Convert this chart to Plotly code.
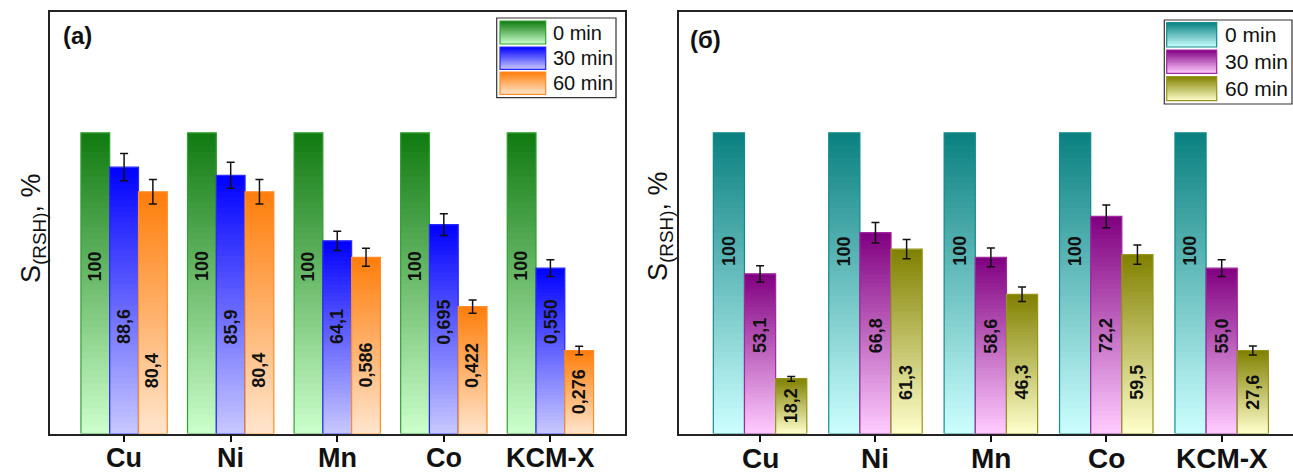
import plotly.graph_objects as go

W, H = 1293, 473

# ---------------- data ----------------
categories = ["Cu", "Ni", "Mn", "Co", "KCM-X"]
series_names = ["0 min", "30 min", "60 min"]

a_0min = [100, 100, 100, 100, 100]
a_30min = [88.6, 85.9, 64.1, 69.5, 55.0]
a_60min = [80.4, 80.4, 58.6, 42.2, 27.6]
a_30min_err = [4.5, 4.3, 3.2, 3.6, 2.8]
a_60min_err = [4.1, 4.1, 3.0, 2.2, 1.4]
a_0min_labels = ["100", "100", "100", "100", "100"]
a_30min_labels = ["88,6", "85,9", "64,1", "0,695", "0,550"]
a_60min_labels = ["80,4", "80,4", "0,586", "0,422", "0,276"]

b_0min = [100, 100, 100, 100, 100]
b_30min = [53.1, 66.8, 58.6, 72.2, 55.0]
b_60min = [18.2, 61.3, 46.3, 59.5, 27.6]
b_30min_err = [2.7, 3.4, 3.1, 3.8, 2.8]
b_60min_err = [0.8, 3.2, 2.4, 3.2, 1.5]
b_0min_labels = ["100", "100", "100", "100", "100"]
b_30min_labels = ["53,1", "66,8", "58,6", "72,2", "55,0"]
b_60min_labels = ["18,2", "61,3", "46,3", "59,5", "27,6"]

# ---------------- styles ----------------
FONT = "Liberation Sans, Arial, sans-serif"
N_SEG = 48
BAR_W = 0.27
OFFSETS = [-BAR_W, 0.0, BAR_W]

panels = [
    dict(
        name="(a)", xa="x", ya="y",
        values=[a_0min, a_30min, a_60min],
        errs=[None, a_30min_err, a_60min_err],
        labels=[a_0min_labels, a_30min_labels, a_60min_labels],
        colors=[((16, 122, 16), (204, 255, 204), "rgb(50,160,50)"),
                ((0, 0, 255), (200, 200, 255), "rgb(40,40,255)"),
                ((255, 125, 10), (255, 229, 204), "rgb(255,140,40)")],
        label_base=[50, 29, 14.5],
        xdom=[49.5 / W, 625 / W], xrange=[-0.70, 4.70],
        legend=dict(box=(496.7, 18, 616, 97.7), sx=(500, 545.7),
                    rows=[(21, 44), (47, 69.3), (72, 94.3)], tx=551, fs=20),
        tag_xy=(61, 36), title_xy=(33, 228), tickfs=27, tick_y=458, mirror_y=True,
    ),
    dict(
        name="(б)", xa="x2", ya="y2",
        values=[b_0min, b_30min, b_60min],
        errs=[None, b_30min_err, b_60min_err],
        labels=[b_0min_labels, b_30min_labels, b_60min_labels],
        colors=[((10, 128, 128), (204, 255, 255), "rgb(20,140,140)"),
                ((128, 0, 128), (255, 204, 255), "rgb(160,40,160)"),
                ((128, 128, 0), (255, 255, 204), "rgb(150,150,30)")],
        label_base=[55, 26, 10.5],
        xdom=[678.7 / W, 1.0], xrange=[-0.705, 4.618],
        legend=dict(box=(1164.3, 20, 1292, 104), sx=(1166.7, 1216.7),
                    rows=[(22.7, 47), (50, 73.3), (76.7, 100.7)], tx=1222.7, fs=21),
        tag_xy=(688, 39), title_xy=(660, 226), tickfs=28, tick_y=458, mirror_y=False,
    ),
]


def mix(top, bot, f):
    return "rgb(%d,%d,%d)" % tuple(round(b + (t - b) * f) for t, b in zip(top, bot))


def px(x):
    return x / W


def py(y):
    return 1 - y / H


fig = go.Figure()
shapes = []
annotations = []

for p in panels:
    xs_base = list(range(len(categories)))
    for s in range(3):
        vals = p["values"][s]
        top, bot, line = p["colors"][s]
        xs = [i + OFFSETS[s] for i in xs_base]
        # gradient fill, drawn as overlapping stacked slices of each bar
        for k in range(N_SEG):
            f = (k + 0.5) / N_SEG
            lo = [v * k / N_SEG for v in vals]
            hi = [min(v, v * (k + 1.8) / N_SEG) for v in vals]
            fig.add_trace(go.Bar(
                x=xs, y=[h - l for h, l in zip(hi, lo)], base=lo,
                width=BAR_W, marker=dict(color=mix(top, bot, f), line=dict(width=0)),
                xaxis=p["xa"], yaxis=p["ya"], showlegend=False, hoverinfo="skip",
            ))
        # outline + error bars
        err = p["errs"][s]
        fig.add_trace(go.Bar(
            x=xs, y=vals, width=BAR_W, name=series_names[s],
            marker=dict(color="rgba(0,0,0,0)", line=dict(color=line, width=1.2)),
            error_y=dict(type="data", array=err, visible=err is not None,
                         color="#111", thickness=1.5, width=4),
            xaxis=p["xa"], yaxis=p["ya"], showlegend=False,
        ))
        # value labels
        for i, v in enumerate(vals):
            if v < 30:
                yv, ya = v / 2, "middle"
            else:
                yv, ya = p["label_base"][s], "bottom"
            annotations.append(dict(
                x=xs[i], y=yv, xref=p["xa"], yref=p["ya"], text=p["labels"][s][i],
                textangle=-90, showarrow=False, xanchor="center", yanchor=ya,
                font=dict(family=FONT, size=18, color="#111", weight="bold"),
            ))

    # category labels under the axis
    for i, c in enumerate(categories):
        annotations.append(dict(
            x=i, y=py(p["tick_y"]), xref=p["xa"], yref="paper", text=c,
            showarrow=False, xanchor="center", yanchor="middle", borderpad=0,
            font=dict(family=FONT, size=p["tickfs"], color="#111", weight="bold"),
        ))

    # manual legend
    lg = p["legend"]
    bx0, by0, bx1, by1 = lg["box"]
    shapes.append(dict(type="rect", xref="paper", yref="paper",
                       x0=px(bx0), x1=px(bx1), y0=py(by1), y1=py(by0),
                       line=dict(color="#333", width=1.2), fillcolor="white"))
    nstripe = 16
    for s in range(3):
        top, bot, line = p["colors"][s]
        r0, r1 = lg["rows"][s]
        hgt = (r1 - r0) / nstripe
        for k in range(nstripe):
            f = 1 - (k + 0.5) / nstripe
            shapes.append(dict(type="rect", xref="paper", yref="paper",
                               x0=px(lg["sx"][0]), x1=px(lg["sx"][1]),
                               y0=py(min(r1, r0 + (k + 1.8) * hgt)), y1=py(r0 + k * hgt),
                               line=dict(width=0), fillcolor=mix(top, bot, f)))
        shapes.append(dict(type="rect", xref="paper", yref="paper",
                           x0=px(lg["sx"][0]), x1=px(lg["sx"][1]), y0=py(r1), y1=py(r0),
                           line=dict(color=line, width=1.2), fillcolor="rgba(0,0,0,0)"))
        annotations.append(dict(
            x=px(lg["tx"]), y=py((r0 + r1) / 2), xref="paper", yref="paper",
            text=series_names[s], showarrow=False, xanchor="left", yanchor="middle",
            font=dict(family=FONT, size=lg["fs"], color="#111"),
        ))

    # panel tag
    annotations.append(dict(
        x=px(p["tag_xy"][0]), y=py(p["tag_xy"][1]), xref="paper", yref="paper",
        text=p["name"], showarrow=False, xanchor="left", yanchor="middle",
        font=dict(family=FONT, size=24, color="#111", weight="bold"),
    ))
    # y title
    annotations.append(dict(
        x=px(p["title_xy"][0]), y=py(p["title_xy"][1]), xref="paper", yref="paper",
        text="S<sub>(RSH)</sub>, %", showarrow=False, textangle=-90,
        xanchor="center", yanchor="middle",
        font=dict(family=FONT, size=27, color="#111"),
    ))

ydom = [1 - 433.5 / H, 1 - 12 / H]


def xaxis_for(p):
    return dict(
        tickmode="array", tickvals=list(range(len(categories))), showticklabels=False,
        ticks="outside", ticklen=7, tickwidth=1.5, tickcolor="#111",
        showline=True, linecolor="#222", linewidth=1.5, mirror=True,
        showgrid=False, zeroline=False, automargin=False,
        domain=p["xdom"], range=p["xrange"], anchor=p["ya"],
    )


def yaxis_for(p):
    return dict(
        range=[0, 140.2], showticklabels=False, ticks="", showgrid=False, zeroline=False,
        showline=True, linecolor="#222", linewidth=1.5, mirror=p["mirror_y"], domain=ydom,
        anchor=p["xa"], automargin=False,
    )


fig.update_layout(
    width=W, height=H, margin=dict(l=0, r=0, t=0, b=0),
    paper_bgcolor="white", plot_bgcolor="white",
    barmode="overlay", showlegend=False,
    xaxis=xaxis_for(panels[0]), yaxis=yaxis_for(panels[0]),
    xaxis2=xaxis_for(panels[1]), yaxis2=yaxis_for(panels[1]),
    shapes=shapes, annotations=annotations,
)

fig.write_html("out.html")
